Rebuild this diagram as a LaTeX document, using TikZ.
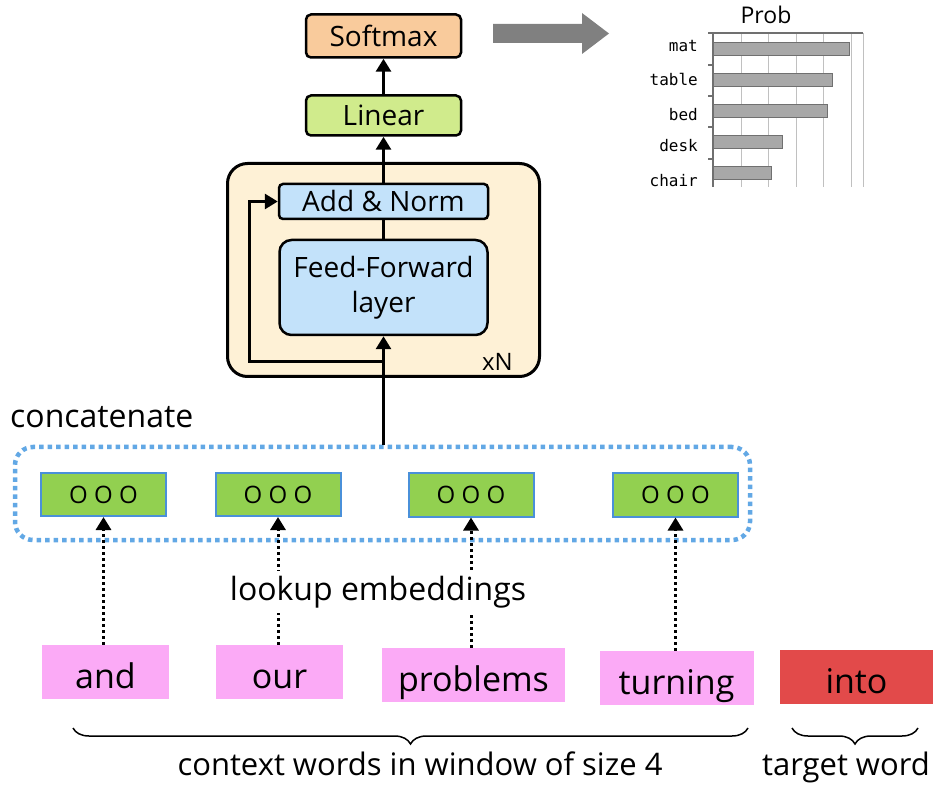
\documentclass[tikz,border=0pt]{standalone}
\usepackage{xcolor}
\usepackage{tikz}
\usepackage{fontspec}
\setmainfont{Open Sans}
\newfontfamily\chartmono{DejaVu Sans Mono}
\usetikzlibrary{shapes,arrows,positioning,calc,decorations.pathreplacing,arrows.meta}
\definecolor{softc}{HTML}{F9CB9C}
\definecolor{linc}{HTML}{D0EB8C}
\definecolor{stackc}{HTML}{FEF1D6}
\definecolor{normc}{HTML}{C3E2FA}
\definecolor{embc}{HTML}{92D050}
\definecolor{embedge}{HTML}{4A90D9}
\definecolor{catc}{HTML}{62A8E5}
\definecolor{wordc}{HTML}{FBAAF6}
\definecolor{targc}{HTML}{E24A4A}
\definecolor{bigarr}{HTML}{808080}
\definecolor{barc}{HTML}{A8A8A8}
\definecolor{bared}{HTML}{707070}
\definecolor{gridc}{HTML}{C0C0C0}

\begin{document}
\begin{tikzpicture}[x=1pt, y=-1pt, >={Triangle[length=13pt,width=15pt]},
    netbox/.style={draw, line width=2.5pt, rounded corners=5pt, align=center, inner sep=0pt, font=\fontsize{28}{35}\selectfont},
    embbox/.style={draw=embedge, fill=embc, line width=2pt, minimum width=125pt, minimum height=43pt, inner sep=0pt, font=\fontsize{24}{28}\selectfont},
    wordbox/.style={fill=wordc, minimum height=54pt, inner sep=0pt, text height=32pt, text depth=0pt, font=\fontsize{34}{40}\selectfont},
    txt/.style={inner sep=0pt, font=\fontsize{31}{38}\selectfont},
    barlbl/.style={anchor=base east, inner sep=0pt, font=\chartmono\fontsize{16}{18}\selectfont},
    flow/.style={->, line width=3pt},
    lookarrow/.style={->, line width=3pt, dash pattern=on 3pt off 3pt}]
    \useasboundingbox (0,0) rectangle (938,786);

    % transformer stack
    \node[draw, line width=3pt, fill=stackc, rounded corners=20pt, minimum width=312pt, minimum height=213pt] (stack) at (383.5,270) {};
    \node[netbox, fill=normc, minimum width=209pt, minimum height=35pt, rounded corners=4pt] (addnorm) at (383.5,201.5) {Add \& Norm};
    \node[netbox, fill=normc, minimum width=208pt, minimum height=95pt, rounded corners=12pt] (ffwd) at (383.5,287.5) {Feed-Forward\\layer};
    \node[netbox, fill=linc, minimum width=155pt, minimum height=40pt] (linear) at (383.5,115.5) {Linear};
    \node[netbox, fill=softc, minimum width=155pt, minimum height=43pt, below of=linear, node distance=-79.5pt] (softmax) {Softmax};
    \node[anchor=base east, inner sep=0pt, font=\fontsize{24}{28}\selectfont] (xn) at (513,371) {xN};

    \draw[line width=3pt] (ffwd) -- (addnorm);
    \draw[flow] (addnorm) -- (linear);
    \draw[flow] (linear) -- (softmax);
    \coordinate (split) at (383.5,362);
    \coordinate (bend) at (249,362);
    \draw[flow] (split) -- (bend) |- (addnorm.west);

    % embeddings
    \node[draw=catc, line width=4.5pt, dash pattern=on 4.5pt off 4pt, rounded corners=18pt, minimum width=735pt, minimum height=93pt] (concat) at (382.5,493.5) {};
    \node[txt, font=\fontsize{32}{38}\selectfont, anchor=base west] (catlbl) at (10,428) {concatenate};
    \node[embbox] (emb1) at (103.5,494.5) {O O O};
    \node[embbox] (emb2) at (278,494.5) {O O O};
    \node[embbox] (emb3) at (471,495) {O O O};
    \node[embbox] (emb4) at (675.5,495) {O O O};
    \draw[flow] (ffwd.south |- concat.north) -- (ffwd.south);

    % words
    \node[wordbox, minimum width=127pt] (wand) at (105.5,672) {and};
    \node[wordbox, minimum width=127pt] (wour) at (279.5,672) {our};
    \node[wordbox, minimum width=183pt] (wprob) at (473.5,675) {problems};
    \node[wordbox, minimum width=154pt] (wturn) at (676.5,678) {turning};
    \node[wordbox, fill=targc, minimum width=153pt] (winto) at (856.5,677) {into};

    \draw[lookarrow] (wand.north -| emb1.south) -- (emb1.south);
    \draw[lookarrow] (wour.north -| emb2.south) -- (emb2.south);
    \draw[lookarrow] (wprob.north -| emb3.south) -- (emb3.south);
    \draw[lookarrow] (wturn.north -| emb4.south) -- (emb4.south);
    \node[txt, fill=white, inner ysep=5pt, font=\fontsize{32}{38}\selectfont, anchor=base] (lookup) at (378,600) {lookup embeddings};

    % braces
    \coordinate (ctxl) at (73,728);
    \coordinate (ctxr) at (748,728);
    \coordinate (tgtl) at (792,728);
    \coordinate (tgtr) at (918,728);
    \draw[decorate, decoration={brace, mirror, amplitude=16pt}, line width=1.5pt] (ctxl) -- (ctxr);
    \draw[decorate, decoration={brace, mirror, amplitude=16pt}, line width=1.5pt] (tgtl) -- (tgtr);
    \node[txt, anchor=base] (ctx) at (420,775) {context words in window of size 4};
    \node[txt, anchor=base] (tgt) at (846,775) {target word};

    % output distribution
    \fill[bigarr] (493,24) -- (582,24) -- (582,13) -- (609,33.5) -- (582,54) -- (582,43) -- (493,43) -- cycle;
    \node[anchor=base, inner sep=0pt, font=\fontsize{23}{26}\selectfont] (prob) at (766,24) {Prob};
    \draw[gridc, line width=1pt] (741,33) -- (741,187) (768,33) -- (768,187) (796,33) -- (796,187)
        (823,33) -- (823,187) (851,33) -- (851,187) (863,33) -- (863,187);
    \draw[bared, line width=1.2pt] (708,33) -- (863,33) (713,33) -- (713,187)
        (708,65) -- (713,65) (708,96) -- (713,96) (708,127) -- (713,127) (708,159) -- (713,159);
    \draw[fill=barc, draw=bared, line width=1pt] (713,43) rectangle (849,56) (713,74) rectangle (832,87)
        (713,105) rectangle (827,118) (713,136) rectangle (782,149) (713,167) rectangle (771,180);
    \node[barlbl] (lmat) at (698,52) {mat};
    \node[barlbl] (ltable) at (698,86) {table};
    \node[barlbl] (lbed) at (698,121) {bed};
    \node[barlbl] (ldesk) at (698,152) {desk};
    \node[barlbl] (lchair) at (698,187) {chair};
\end{tikzpicture}
\end{document}
